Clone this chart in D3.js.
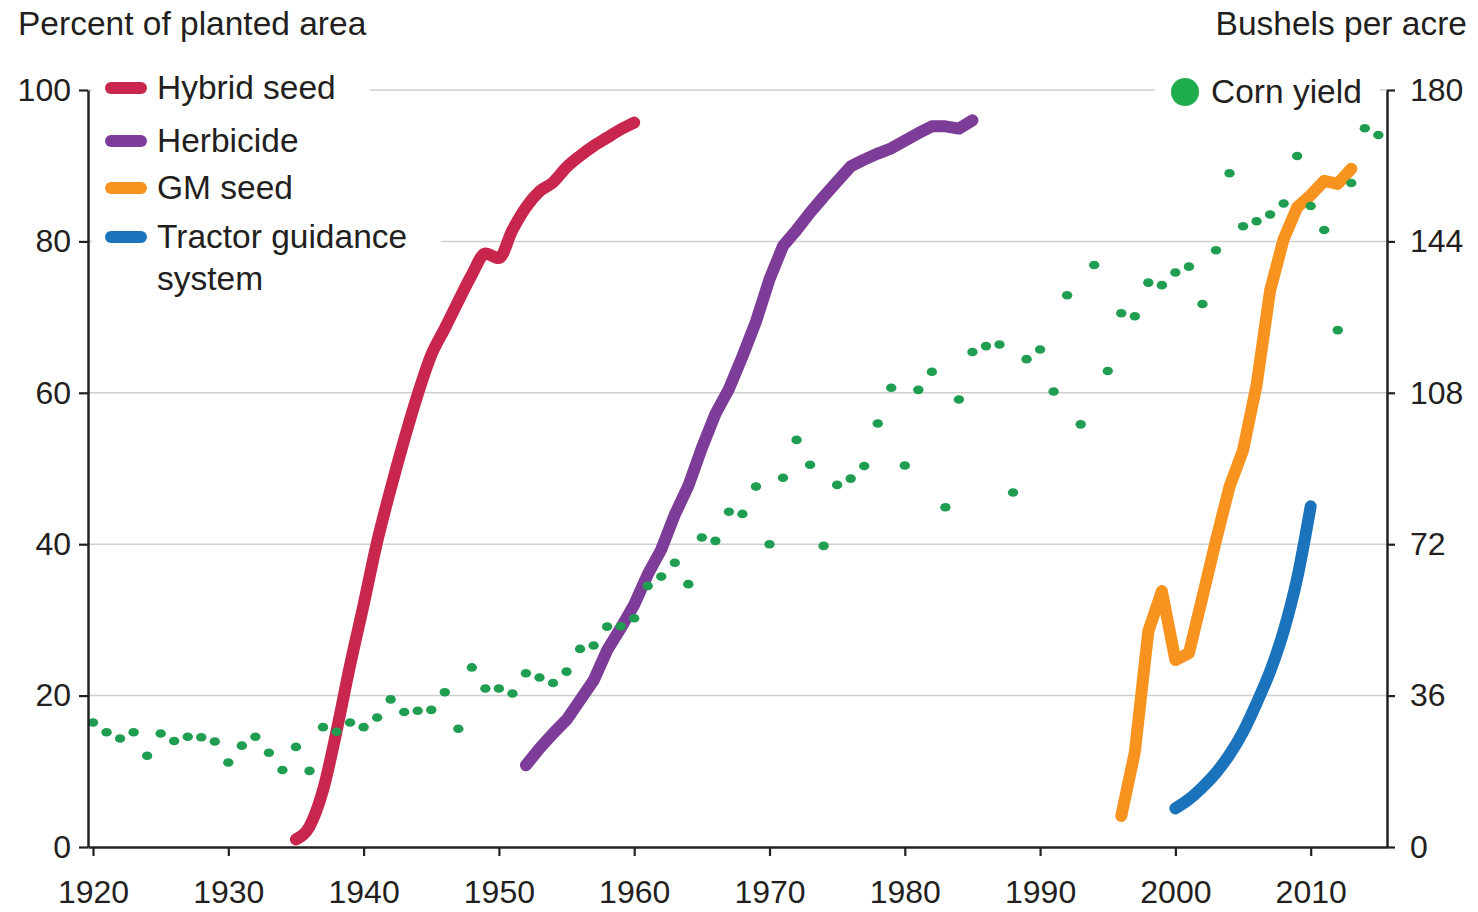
<!DOCTYPE html>
<html>
<head>
<meta charset="utf-8">
<script src="https://cdn.jsdelivr.net/npm/d3@7"></script>
<style>
  html, body { margin: 0; padding: 0; background: #fff; }
  svg { display: block; font-family: "Liberation Sans", Arial, Helvetica, sans-serif; }
</style>
</head>
<body>
<svg id="chart" width="1478" height="912"></svg>
<script>
// ---------- DATA ----------
const xTicks = [1920, 1930, 1940, 1950, 1960, 1970, 1980, 1990, 2000, 2010];
const leftTicks = [0, 20, 40, 60, 80, 100];
const rightTicks = [0, 36, 72, 108, 144, 180];

const cornStartYear = 1920;
const cornYield = [
  29.6, 27.3, 25.8, 27.3, 21.7, 27.0, 25.2, 26.2, 26.1, 25.1,
  20.1, 24.1, 26.2, 22.4, 18.3, 23.8, 18.1, 28.5, 27.4, 29.6,
  28.5, 30.8, 35.1, 32.1, 32.4, 32.6, 36.8, 28.1, 42.7, 37.7,
  37.7, 36.5, 41.3, 40.3, 39.0, 41.7, 47.1, 47.9, 52.4, 52.5,
  54.4, 62.1, 64.3, 67.6, 62.5, 73.6, 72.8, 79.7, 79.2, 85.7,
  72.0, 87.8, 96.8, 90.9, 71.6, 86.1, 87.6, 90.6, 100.7, 109.2,
  90.7, 108.7, 113.0, 80.8, 106.4, 117.7, 119.1, 119.5, 84.3, 116.0,
  118.3, 108.3, 131.2, 100.5, 138.4, 113.2, 126.9, 126.2, 134.2, 133.6,
  136.6, 138.0, 129.1, 141.9, 160.2, 147.6, 148.8, 150.4, 153.0, 164.3,
  152.4, 146.7, 122.9, 157.9, 170.9, 169.3
];

const hybridStart = 1935;
const hybridSeed = [1.0, 2.7, 7.5, 15.3, 24.0, 32.0, 40.3, 47.3, 53.8, 59.8, 65.0, 68.5, 72.1, 75.6, 78.4, 77.8, 81.5, 84.5, 86.6, 87.8, 89.8, 91.3, 92.6, 93.7, 94.8, 95.7];

const herbicideStart = 1952;
const herbicide = [10.8, 13.0, 15.0, 16.8, 19.4, 22.0, 26.0, 28.9, 32.0, 36.0, 39.3, 43.9, 47.7, 52.7, 57.2, 60.5, 64.8, 69.4, 75.0, 79.4, 81.5, 83.8, 85.9, 87.9, 89.9, 90.8, 91.6, 92.3, 93.3, 94.3, 95.2, 95.2, 94.9, 96.0];

const gmStart = 1996;
const gmSeed = [4.1, 12.5, 28.5, 33.8, 24.7, 25.6, 33.0, 40.5, 47.6, 52.4, 61.0, 73.5, 80.3, 84.5, 86.1, 88.0, 87.6, 89.6];

const tractorStart = 2000;
const tractorGuidance = [5.1, 6.3, 7.9, 9.8, 12.2, 15.2, 19.0, 23.2, 28.5, 35.5, 45.0];

const seriesNames = ["Hybrid seed", "Herbicide", "GM seed", "Tractor guidance system"];
const seriesColors = ["#c8264c", "#7d3c98", "#f7931e", "#1b74bb"];
const cornColor = "#1f9d50";
const cornLegendColor = "#20ad4e";

// ---------- SETUP ----------
const svg = d3.select("#chart");
const FONT_TICK = 32, FONT_TEXT = 33.5, TEXT_COLOR = "#231f20";

const x = d3.scaleLinear().domain([1919.63, 2015.64]).range([88, 1387]);
const yL = d3.scaleLinear().domain([0, 100]).range([847, 90]);
const yR = d3.scaleLinear().domain([0, 180]).range([847, 90]);

svg.append("rect").attr("width", 1478).attr("height", 912).attr("fill", "#fff");

// gridlines
svg.append("g").selectAll("line").data(leftTicks.filter(d => d > 0)).join("line")
  .attr("x1", x.range()[0]).attr("x2", x.range()[1])
  .attr("y1", d => yL(d)).attr("y2", d => yL(d))
  .attr("stroke", "#cfcfcf").attr("stroke-width", 1.5);

// ---------- LINES ----------
function toPts(start, arr) { return arr.map((v, i) => [start + i, v]); }
const seriesData = [
  toPts(hybridStart, hybridSeed),
  toPts(herbicideStart, herbicide),
  toPts(gmStart, gmSeed),
  toPts(tractorStart, tractorGuidance)
];
const curves = [d3.curveMonotoneX, d3.curveLinear, d3.curveLinear, d3.curveMonotoneX];

seriesData.forEach((pts, i) => {
  const line = d3.line().x(d => x(d[0])).y(d => yL(d[1])).curve(curves[i]);
  svg.append("path").datum(pts)
    .attr("d", line)
    .attr("fill", "none")
    .attr("stroke", seriesColors[i])
    .attr("stroke-width", 12)
    .attr("stroke-linecap", "round")
    .attr("stroke-linejoin", "round");
});

// ---------- CORN DOTS ----------
svg.append("g").selectAll("ellipse")
  .data(cornYield.map((v, i) => [cornStartYear + i, v]))
  .join("ellipse")
  .attr("cx", d => x(d[0])).attr("cy", d => yR(d[1]))
  .attr("rx", 5.2).attr("ry", 4.3).attr("fill", cornColor);

// ---------- AXES ----------
function styleAxis(g) {
  g.select(".domain").attr("stroke", "#222").attr("stroke-width", 2.5);
  g.selectAll(".tick line").attr("stroke", "#222").attr("stroke-width", 2.2);
  g.selectAll(".tick text").attr("fill", TEXT_COLOR)
    .style("font-size", FONT_TICK + "px")
    .style("font-family", '"Liberation Sans", Arial, Helvetica, sans-serif');
}

svg.append("g").attr("transform", `translate(${x.range()[0]},0)`)
  .call(d3.axisLeft(yL).tickValues(leftTicks).tickSize(9).tickSizeOuter(0).tickPadding(8))
  .call(styleAxis);

svg.append("g").attr("transform", `translate(${x.range()[1]},0)`)
  .call(d3.axisRight(yR).tickValues(rightTicks).tickSize(8).tickSizeOuter(0).tickPadding(15))
  .call(styleAxis);

svg.append("g").attr("transform", `translate(0,${yL.range()[0]})`)
  .call(d3.axisBottom(x).tickValues(xTicks).tickFormat(d3.format("d")).tickSize(9).tickSizeOuter(0).tickPadding(24))
  .call(styleAxis);

// ---------- TITLES ----------
svg.append("text").attr("x", 18).attr("y", 35)
  .attr("fill", TEXT_COLOR).style("font-size", FONT_TEXT + "px")
  .text("Percent of planted area");
svg.append("text").attr("x", 1467).attr("y", 35).attr("text-anchor", "end")
  .attr("fill", TEXT_COLOR).style("font-size", FONT_TEXT + "px")
  .text("Bushels per acre");

// ---------- LEGEND ----------
const legendRows = [
  { y: 88, lines: ["Hybrid seed"] },
  { y: 141, lines: ["Herbicide"] },
  { y: 188, lines: ["GM seed"] },
  { y: 237, lines: ["Tractor guidance", "system"] }
];
const leg = svg.append("g");
legendRows.forEach((row, i) => {
  const g = leg.append("g");
  const bg = g.append("rect").attr("fill", "#fff");
  g.append("line")
    .attr("x1", 111).attr("x2", 141).attr("y1", row.y).attr("y2", row.y)
    .attr("stroke", seriesColors[i]).attr("stroke-width", 12).attr("stroke-linecap", "round");
  const t = g.append("text").attr("x", 157).attr("y", row.y + 11)
    .attr("fill", TEXT_COLOR).style("font-size", FONT_TEXT + "px");
  row.lines.forEach((ln, j) => {
    t.append("tspan").attr("x", 157).attr("dy", j === 0 ? 0 : 42).text(ln);
  });
  const bb = t.node().getBBox();
  bg.attr("x", 92).attr("y", row.y - 14).attr("width", bb.x + bb.width + 34 - 92).attr("height", 28);
});

// corn legend
const cg = svg.append("g");
const cbg = cg.append("rect").attr("fill", "#fff");
cg.append("circle").attr("cx", 1185).attr("cy", 92).attr("r", 14).attr("fill", cornLegendColor);
const ct = cg.append("text").attr("x", 1211).attr("y", 103)
  .attr("fill", TEXT_COLOR).style("font-size", FONT_TEXT + "px").text("Corn yield");
cbg.attr("x", 1155).attr("y", 78).attr("width", 1380 - 1155).attr("height", 28);
</script>
</body>
</html>
